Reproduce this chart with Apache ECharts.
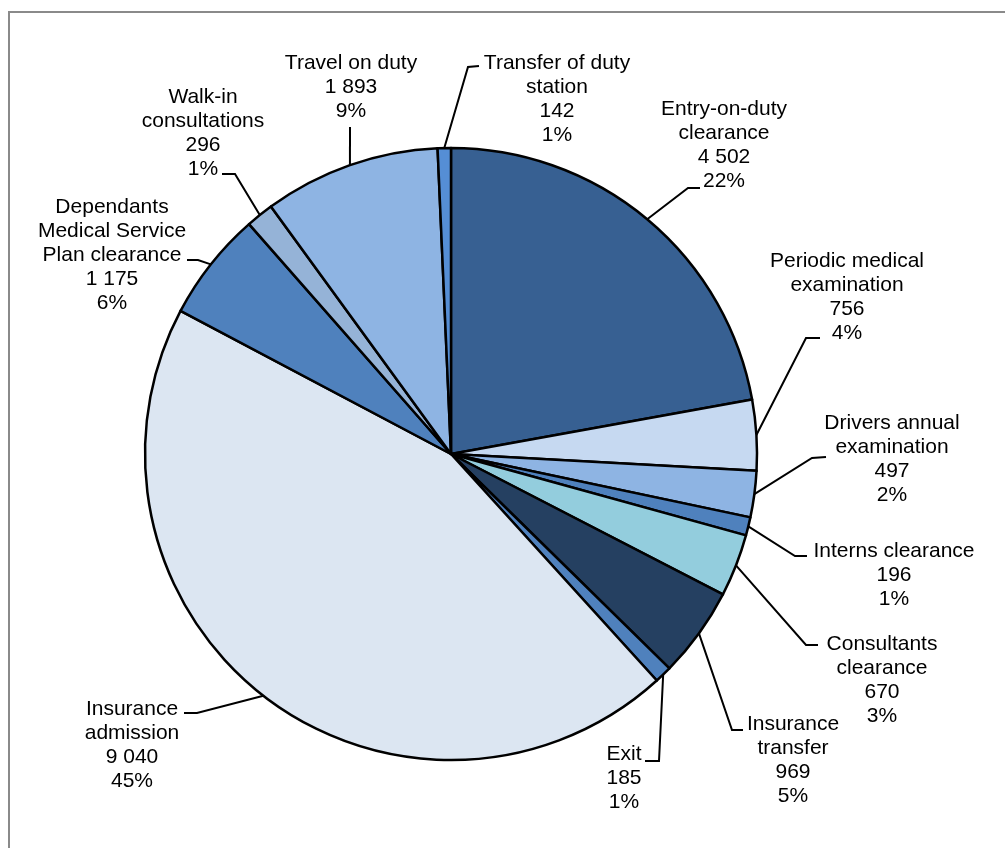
<!DOCTYPE html>
<html>
<head>
<meta charset="utf-8">
<title>Medical clearances and examinations</title>
<script src="https://cdn.jsdelivr.net/npm/echarts@6/dist/echarts.min.js"></script>
<style>
  html, body { margin: 0; padding: 0; background: #ffffff; }
  #chart { width: 1005px; height: 848px; }
</style>
</head>
<body>
<div id="chart"></div>
<script>
// Categories, clockwise from 12 o'clock
const categories = [
  'Entry-on-duty\nclearance',
  'Periodic medical\nexamination',
  'Drivers annual\nexamination',
  'Interns clearance',
  'Consultants\nclearance',
  'Insurance\ntransfer',
  'Exit',
  'Insurance\nadmission',
  'Dependants\nMedical Service\nPlan clearance',
  'Walk-in\nconsultations',
  'Travel on duty',
  'Transfer of duty\nstation'
];
const counts = [4502, 756, 497, 196, 670, 969, 185, 9040, 1175, 296, 1893, 142];
const percentLabels = [22, 4, 2, 1, 3, 5, 1, 45, 6, 1, 9, 1];
const sliceColors = [
  '#376092', '#C6D9F1', '#8EB4E3', '#4F81BD', '#93CDDD', '#254061',
  '#4F81BD', '#DCE6F2', '#4F81BD', '#95B3D7', '#8EB4E3', '#558ED5'
];

// Label placement: text block centre, leader elbow and leader end (px)
const labelPlacement = [
  { x: 724, y: 145, elbow: [688, 188], end: [700, 188] },
  { x: 847, y: 297, elbow: [806, 338], end: [820, 338] },
  { x: 892, y: 459, elbow: [812, 458], end: [826, 457] },
  { x: 894, y: 575, elbow: [795, 556], end: [807, 556] },
  { x: 882, y: 680, elbow: [806, 645], end: [818, 645] },
  { x: 793, y: 760, elbow: [732, 730], end: [743, 730] },
  { x: 624, y: 778, elbow: [659, 761], end: [645, 761] },
  { x: 132, y: 745, elbow: [197, 713], end: [184, 713] },
  { x: 112, y: 255, elbow: [198, 260], end: [187, 260] },
  { x: 203, y: 133, elbow: [235, 174], end: [222, 174] },
  { x: 351, y: 87,  elbow: [350, 127], end: [350, 127] },
  { x: 557, y: 99,  elbow: [468, 67],  end: [479, 66] }
];

const PIE_CENTER = [451, 454];
const PIE_RADIUS = 306;

function formatCount(v) {
  if (v < 1000) return String(v);
  const rest = String(v % 1000).padStart(3, '0');
  return Math.floor(v / 1000) + ' ' + rest;
}

// Point on the outer rim at the middle of a slice (fallback for the leader start)
function rimPoint(idx) {
  const total = counts.reduce((a, b) => a + b, 0);
  let before = 0;
  for (let i = 0; i < idx; i++) before += counts[i];
  const frac = (before + counts[idx] / 2) / total;
  const ang = (90 - frac * 360) * Math.PI / 180;
  return [PIE_CENTER[0] + PIE_RADIUS * Math.cos(ang), PIE_CENTER[1] - PIE_RADIUS * Math.sin(ang)];
}

const chart = echarts.init(document.getElementById('chart'), null, { renderer: 'canvas' });

chart.setOption({
  animation: false,
  backgroundColor: '#ffffff',
  graphic: [{
    type: 'rect',
    silent: true,
    shape: { x: 9, y: 12, width: 1100, height: 900 },
    style: { fill: 'none', stroke: '#8a8a8a', lineWidth: 2 }
  }],
  series: [{
    type: 'pie',
    center: PIE_CENTER,
    radius: PIE_RADIUS,
    startAngle: 90,
    clockwise: true,
    avoidLabelOverlap: false,
    minShowLabelAngle: 0,
    emphasis: { disabled: true },
    itemStyle: { borderColor: '#000000', borderWidth: 2.5 },
    label: {
      show: true,
      position: 'outside',
      color: '#000000',
      fontFamily: 'Liberation Sans, Arial, sans-serif',
      fontSize: 21,
      lineHeight: 24,
      align: 'center',
      overflow: 'none',
      formatter: function (p) {
        return p.name + '\n' + formatCount(p.value) + '\n' + percentLabels[p.dataIndex] + '%';
      }
    },
    labelLine: {
      show: true,
      smooth: false,
      lineStyle: { color: '#000000', width: 2 }
    },
    labelLayout: function (params) {
      const lp = labelPlacement[params.dataIndex];
      const start = (params.labelLinePoints && params.labelLinePoints[0]) || rimPoint(params.dataIndex);
      return {
        x: lp.x,
        y: lp.y,
        align: 'center',
        verticalAlign: 'middle',
        labelLinePoints: [start, lp.elbow, lp.end]
      };
    },
    data: categories.map((name, i) => ({
      name: name,
      value: counts[i],
      itemStyle: { color: sliceColors[i] }
    }))
  }]
});
</script>
</body>
</html>
